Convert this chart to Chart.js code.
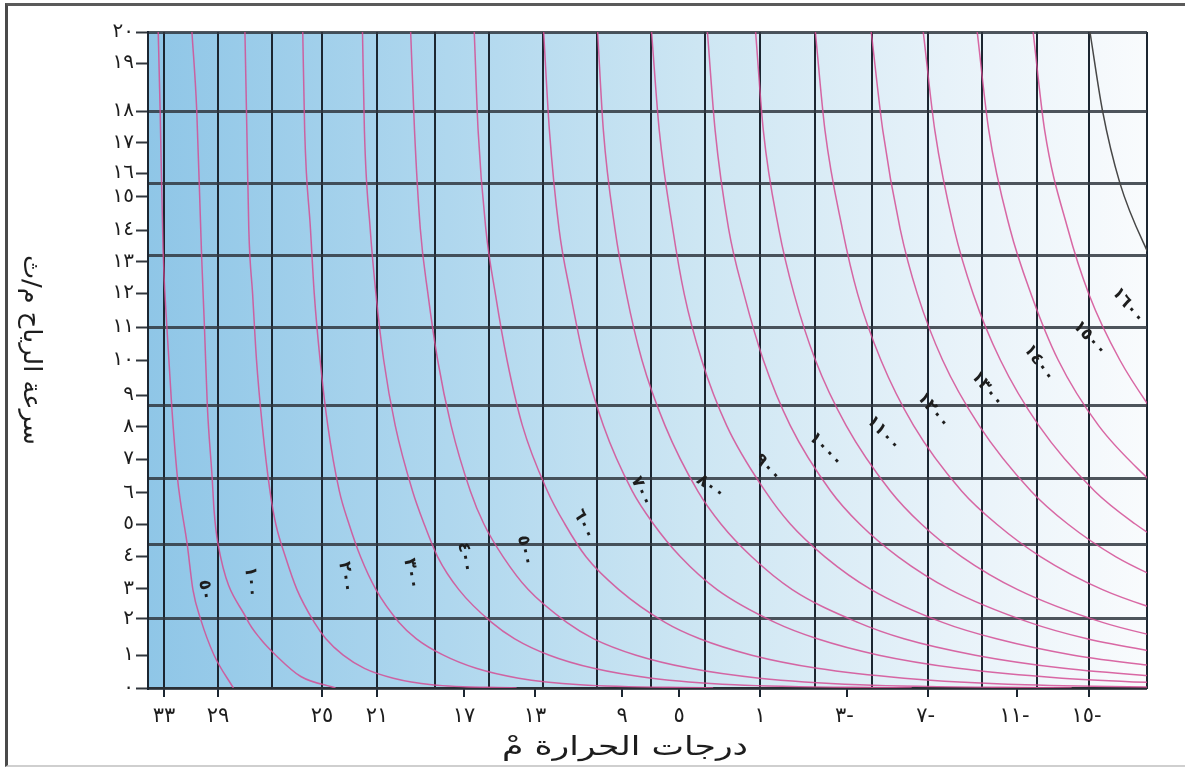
<!DOCTYPE html>
<html lang="ar">
<head>
<meta charset="utf-8">
<title>برودة الرياح</title>
<script src="https://cdn.jsdelivr.net/npm/chart.js@4.4.1/dist/chart.umd.min.js"></script>
<style>
  html, body { margin: 0; padding: 0; background: #fff; }
  #wrap { position: relative; width: 1185px; height: 767px; overflow: hidden; }
  #frame {
    position: absolute; left: 5px; top: 3px; width: 1200px; height: 764px;
    box-sizing: border-box; border-left: 3px solid #4a4a4a; border-top: 3px solid #5a5a5a;
    border-bottom: 2px solid #cfcfcf; pointer-events: none;
  }
  canvas { position: absolute; left: 0; top: 0; }
</style>
</head>
<body>
<div id="wrap">
  <canvas id="windChill" width="1185" height="767"></canvas>
  <div id="frame"></div>
</div>
<script>
// ---------------------------------------- axes (label spots)
const tempTickAt = [33, 30.2, 24.8, 21.95, 17.43, 13.75, 9.23, 6.27, 2.07, -2.44, -6.65, -11.27, -15];
const tempTickLabels = ['٣٣', '٢٩', '٢٥', '٢١', '١٧', '١٣', '٩', '٥', '١', '٣-', '٧-', '١١-', '١٥-'];
const tempGridAt = [33.83, 33, 30.2, 27.4, 24.8, 21.95, 18.94, 16.13, 13.33, 10.53, 7.73, 4.92, 2.07,
  -0.78, -3.74, -6.65, -9.45, -12.3, -15, -18.01];

const speedTickAt = [0, 1, 2.12, 3.02, 4.02, 5, 5.95, 6.98, 7.96, 8.93, 10, 11, 12.04, 12.99, 13.96,
  14.97, 15.7, 16.62, 17.59, 19.05, 20];
const speedTickLabels = ['٠', '١', '٢', '٣', '٤', '٥', '٦', '٧', '٨', '٩', '١٠', '١١', '١٢', '١٣', '١٤',
  '١٥', '١٦', '١٧', '١٨', '١٩', '٢٠'];
const speedGridAt = [0, 2.12, 4.36, 6.4, 8.6, 11, 13.2, 15.37, 17.59, 20];

// ---------------------------------------- curves (temperature at each wind speed)
const speedLevels = [20, 17, 14, 12, 10, 8, 6, 5, 4, 3, 2, 1.5, 1, 0.6, 0.3, 0.1, 0];

const speed50 = [20, 17.6, 13.4, 11, 8.6, 6.4, 5.7, 4.4, 3, 2.1, 1, 0];
const temp50 = [33.3, 33.2, 33.05, 32.85, 32.6, 32.3, 32.15, 31.8, 31.5, 31.1, 30.4, 29.4];
const speed100 = [20, 17.6, 13.2, 11, 8.6, 6.4, 5.4, 4.4, 2.1, 1.5, 1, 0.35, 0];
const temp100 = [31.55, 31.3, 31.05, 30.9, 30.75, 30.5, 30.4, 30.2, 28.7, 28.0, 27.2, 25.9, 24.1];
const temp200 = [28.8, 28.7, 28.6, 28.4, 28.2, 27.9, 27.5, 27.2, 26.7, 26.1, 25.2, 24.6, 23.7, 22.6, 21.1, 19.1, 14.7];
const temp300 = [25.8, 25.7, 25.4, 25.2, 24.9, 24.5, 23.9, 23.4, 22.8, 22.0, 20.8, 19.9, 18.5, 16.8, 14.6, 11.4, 4.5];
const temp400 = [22.7, 22.6, 22.3, 22.0, 21.6, 21.0, 20.1, 19.5, 18.8, 17.7, 16.0, 14.8, 13.0, 10.7, 7.7, 3.4, -5.8];
const temp500 = [20.2, 20.0, 19.7, 19.3, 18.8, 18.1, 17.1, 16.4, 15.4, 14.1, 12.1, 10.7, 8.5, 5.7, 2.1, -3.1, -14.1];
const temp600 = [16.9, 16.7, 16.3, 15.8, 15.2, 14.4, 13.1, 12.2, 11.1, 9.4, 7.0, 5.2, 2.5, -0.9, -5.4, -11.7, -25.3];
const temp700 = [13.3, 13.0, 12.5, 11.9, 11.2, 10.2, 8.7, 7.6, 6.2, 4.3, 1.3, -0.9, -4.1, -8.2, -13.6, -21.2];
const temp800 = [10.5, 10.2, 9.6, 9.0, 8.2, 7.0, 5.3, 4.1, 2.5, 0.4, -3.0, -5.4, -9.1, -13.7, -19.8];
const temp900 = [7.7, 7.3, 6.6, 6.0, 5.1, 3.8, 1.8, 0.5, -1.3, -3.7, -7.4, -10.2, -14.2, -19.4];
const temp1000 = [4.8, 4.4, 3.7, 2.9, 1.9, 0.5, -1.6, -3.1, -5.1, -7.8, -11.9, -14.9, -19.4];
const temp1100 = [2.3, 1.9, 1.1, 0.3, -0.8, -2.4, -4.7, -6.3, -8.4, -11.3, -15.7, -19.0];
const temp1200 = [-0.8, -1.3, -2.2, -3.0, -4.2, -5.9, -8.4, -10.2, -12.5, -15.7, -20.6];
const temp1300 = [-3.7, -4.3, -5.2, -6.1, -7.4, -9.3, -12.0, -13.9, -16.4, -19.9];
const temp1400 = [-6.4, -7.0, -8.0, -9.0, -10.4, -12.4, -15.3, -17.4, -20.0];
const temp1500 = [-9.2, -9.8, -10.9, -12.0, -13.4, -15.5, -18.7];
const temp1600 = [-12.1, -12.7, -13.9, -15.0, -16.6, -18.8];
const speedDark = [20, 17.6, 15.4, 13.35, 12.8];
const tempDark = [-15.05, -15.7, -16.6, -18.0, -18.5];

// curve names written on the chart, and where they sit
const curveNames = ['٥٠', '١٠٠', '٢٠٠', '٣٠٠', '٤٠٠', '٥٠٠', '٦٠٠', '٧٠٠', '٨٠٠', '٩٠٠', '١٠٠٠', '١١٠٠',
  '١٢٠٠', '١٣٠٠', '١٤٠٠', '١٥٠٠', '١٦٠٠'];
const nameTemp = [30.9, 28.5, 23.6, 20.2, 17.4, 14.3, 11.3, 8.3, 4.8, 1.8, -1.2, -4.2, -6.8, -9.6, -12.3, -14.9, -16.9];
const nameSpeed = [3.1, 3.35, 3.5, 3.6, 4.1, 4.3, 5.1, 6.1, 6.2, 6.8, 7.35, 7.85, 8.55, 9.2, 10.0, 10.75, 11.75];
const nameTilt = [82, 85, 82, 80, 80, 78, 65, 65, 35, 46, 46, 47, 50, 50, 54, 47, 50];

// ========================================
const FONT = "'DejaVu Sans', sans-serif";
const PINK = 'rgba(212, 78, 148, 0.85)';

function onList(v, list) {
  return list.some((a) => Math.abs(a - v) < 1e-6);
}

function mergeTicks(a, b) {
  const vals = Array.from(new Set([...a, ...b])).sort((p, q) => p - q);
  return vals.map((v) => ({ value: v }));
}

function labelFor(v, at, labels) {
  for (let i = 0; i < at.length; i++) {
    if (Math.abs(at[i] - v) < 1e-6) return labels[i];
  }
  return '';
}

function curve(temps, speeds) {
  return temps.map((t, i) => ({ x: t, y: speeds[i] }));
}

function line(temps, speeds, color) {
  return {
    data: curve(temps, speeds),
    showLine: true,
    borderColor: color || PINK,
    borderWidth: 1.5,
    pointRadius: 0,
    cubicInterpolationMode: 'monotone',
    fill: false,
  };
}

// text squeezed/stretched to a given length (the print uses a wide Arabic face)
function fitText(ctx, text, x, y, length, angle) {
  const w = ctx.measureText(text).width;
  ctx.save();
  ctx.translate(x, y);
  ctx.rotate(angle);
  ctx.scale(length / w, 1);
  ctx.fillText(text, 0, 0);
  ctx.restore();
}

const backdrop = {
  id: 'backdrop',
  beforeDraw(chart) {
    const { ctx, chartArea: a } = chart;
    ctx.save();
    const g = ctx.createLinearGradient(a.left, 0, a.right, 0);
    g.addColorStop(0, '#8fc6e7');
    g.addColorStop(0.3, '#afd7ee');
    g.addColorStop(0.55, '#cde6f3');
    g.addColorStop(0.8, '#e7f2f9');
    g.addColorStop(1, '#f9fbfd');
    ctx.fillStyle = g;
    ctx.fillRect(a.left, a.top, a.right - a.left, a.bottom - a.top);
    ctx.restore();
    ctx.letterSpacing = '5px';
  },
  afterDraw(chart) {
    const { ctx, scales } = chart;
    ctx.save();
    ctx.letterSpacing = '0px';
    ctx.fillStyle = '#1d1d1d';
    ctx.textAlign = 'center';
    ctx.textBaseline = 'middle';

    // axis titles
    ctx.font = '26px ' + FONT;
    fitText(ctx, 'درجات الحرارة مْ', 625, 748, 246, 0);
    ctx.font = '25px ' + FONT;
    fitText(ctx, 'سرعة الرياح م/ث', 30, 350, 190, Math.PI / 2);

    // curve names
    ctx.font = 'bold 17px ' + FONT;
    ctx.letterSpacing = '8px';
    for (let i = 0; i < curveNames.length; i++) {
      const px = scales.x.getPixelForValue(nameTemp[i]);
      const py = scales.y.getPixelForValue(nameSpeed[i]);
      ctx.save();
      ctx.translate(px, py);
      ctx.rotate((nameTilt[i] * Math.PI) / 180);
      ctx.fillText(curveNames[i], 4, 0);
      ctx.restore();
    }
    ctx.restore();
  },
};

const ctx = document.getElementById('windChill').getContext('2d');
new Chart(ctx, {
  type: 'scatter',
  data: {
    datasets: [
      line(temp50, speed50),
      line(temp100, speed100),
      line(temp200, speedLevels),
      line(temp300, speedLevels),
      line(temp400, speedLevels),
      line(temp500, speedLevels),
      line(temp600, speedLevels),
      line(temp700, speedLevels),
      line(temp800, speedLevels),
      line(temp900, speedLevels),
      line(temp1000, speedLevels),
      line(temp1100, speedLevels),
      line(temp1200, speedLevels),
      line(temp1300, speedLevels),
      line(temp1400, speedLevels),
      line(temp1500, speedLevels),
      line(temp1600, speedLevels),
      line(tempDark, speedDark, '#474747'),
    ],
  },
  options: {
    responsive: false,
    animation: false,
    devicePixelRatio: 1,
    layout: { padding: { top: 32, right: 38, left: 0, bottom: 0 } },
    plugins: { legend: { display: false }, tooltip: { enabled: false } },
    scales: {
      x: {
        type: 'linear',
        reverse: true,
        min: -18.01,
        max: 33.83,
        z: 1,
        afterBuildTicks: (scale) => { scale.ticks = mergeTicks(tempTickAt, tempGridAt); },
        afterFit: (scale) => { scale.height = 79; },
        ticks: {
          autoSkip: false,
          maxRotation: 0,
          padding: 7,
          color: '#1d1d1d',
          font: { family: FONT, size: 21 },
          callback: (v) => labelFor(v, tempTickAt, tempTickLabels),
        },
        grid: {
          color: (c) => (onList(c.tick.value, tempGridAt) ? '#1c2631' : 'transparent'),
          lineWidth: 2,
          tickLength: 9,
          tickWidth: 2,
          tickColor: (c) => (onList(c.tick.value, tempTickAt) ? '#1c2631' : 'transparent'),
        },
        border: { display: true, color: '#2a2f35', width: 2 },
      },
      y: {
        type: 'linear',
        min: 0,
        max: 20,
        z: 1,
        afterBuildTicks: (scale) => { scale.ticks = mergeTicks(speedTickAt, speedGridAt); },
        afterFit: (scale) => { scale.width = 148; },
        ticks: {
          autoSkip: false,
          padding: 2,
          color: '#1d1d1d',
          font: { family: FONT, size: 20 },
          callback: (v) => labelFor(v, speedTickAt, speedTickLabels),
        },
        grid: {
          color: (c) => (onList(c.tick.value, speedGridAt) ? 'rgba(48, 55, 63, 0.85)' : 'transparent'),
          lineWidth: 3,
          tickLength: 12,
          tickWidth: 2,
          tickColor: (c) => (onList(c.tick.value, speedTickAt) ? '#30363d' : 'transparent'),
        },
        border: { display: true, color: '#1c2631', width: 2 },
      },
    },
  },
  plugins: [backdrop],
});
</script>
</body>
</html>
